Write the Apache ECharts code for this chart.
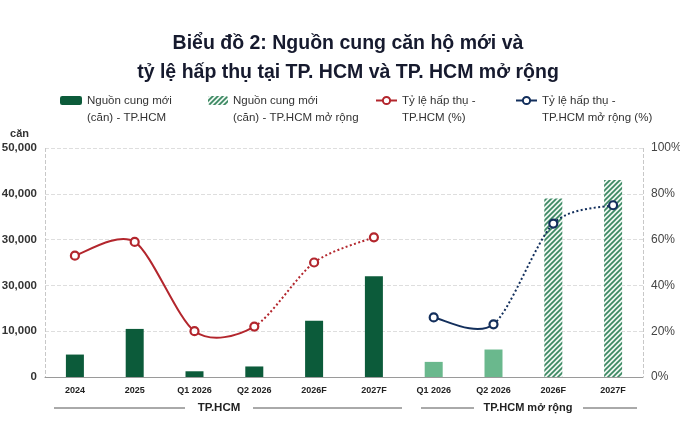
<!DOCTYPE html>
<html>
<head>
<meta charset="utf-8">
<script src="https://cdn.jsdelivr.net/npm/echarts@6/dist/echarts.min.js"></script>
<style>
html,body{margin:0;padding:0;background:#fff;}
#c{width:680px;height:425px;}
</style>
</head>
<body>
<div id="c"></div>
<script>
// ---- data ----
var categories = ['2024','2025','Q1 2026','Q2 2026','2026F','2027F','Q1 2026','Q2 2026','2026F','2027F'];
var supplyHCM = [4900, 10500, 1250, 2300, 12300, 22000, null, null, null, null];
var supplyExt = [null, null, null, null, null, null, 3300, 6000, 39000, 43000];
var absorbHCM = [53, 59, 20, 22, null, null, null, null, null, null];
var absorbHCMForecast = [null, null, null, 22, 50, 61, null, null, null, null];
var absorbExt = [null, null, null, null, null, null, 26, 23, null, null];
var absorbExtForecast = [null, null, null, null, null, null, null, 23, 67, 75];
var leftTickLabels = ['0','10,000','30,000','30,000','40,000','50,000'];
var rightTickLabels = ['0%','20%','40%','60%','80%','100%'];
var forecastFlags = [false,false,false,false,true,true,false,false,true,true];

// ---- styles ----
var DARK = '#0c5b3a', LIGHT = '#6ab88d', RED = '#b3262d', NAVY = '#132f5c';
function hatch(){
  var s = 5, cv = document.createElement('canvas');
  cv.width = s; cv.height = s;
  var ctx = cv.getContext('2d');
  ctx.fillStyle = '#eef6f1'; ctx.fillRect(0,0,s,s);
  ctx.strokeStyle = '#3b8862'; ctx.lineWidth = 1.7;
  ctx.beginPath();
  ctx.moveTo(0,s); ctx.lineTo(s,0);
  ctx.moveTo(-1,1); ctx.lineTo(1,-1);
  ctx.moveTo(s-1,s+1); ctx.lineTo(s+1,s-1);
  ctx.stroke();
  return {image: cv, repeat: 'repeat'};
}
var HATCH = hatch();

var extData = supplyExt.map(function(v,i){
  if (v === null) return null;
  return forecastFlags[i] ? {value: v, itemStyle:{color: HATCH}} : {value: v, itemStyle:{color: LIGHT}};
});

function merge(a, b){ return a.map(function(v,i){ return v !== null ? v : b[i]; }); }

var FONT = 'Liberation Sans, Arial, sans-serif';
var NAME_SUP_HCM = 'Nguồn cung mới\n(căn) - TP.HCM';
var NAME_SUP_EXT = 'Nguồn cung mới\n(căn) - TP.HCM mở rộng';
var NAME_ABS_HCM = 'Tỷ lệ hấp thụ -\nTP.HCM (%)';
var NAME_ABS_EXT = 'Tỷ lệ hấp thụ -\nTP.HCM mở rộng (%)';

function legend(name, left, w, h, lineColor){
  var item = {name: name};
  if (lineColor) item.lineStyle = {color: lineColor, width: 2, opacity: 1, type: 'solid'};
  return {
    data: [item], left: left, top: 70, itemWidth: w, itemHeight: h, itemGap: 0,
    selectedMode: false,
    formatter: function(n){ return ' \n' + n; },
    textStyle: {fontFamily: FONT, fontSize: 11.5, color: '#333', lineHeight: 17}
  };
}

// markers series (the curve itself is drawn by a custom series below)
function markerSeries(name, solid, forecast, color){
  return {
    name: name, type: 'line', yAxisIndex: 1, data: merge(solid, forecast),
    symbol: 'circle', symbolSize: 8,
    lineStyle: {color: color, width: 2, opacity: 0},
    itemStyle: {color: '#fff', borderColor: color, borderWidth: 2.2},
    z: 5
  };
}

// smooth (Catmull-Rom) curve through the data points, via the chart's own coord system
function curveSeries(solid, forecast, color){
  var vals = merge(solid, forecast);
  var idx = [];
  vals.forEach(function(v,i){ if (v !== null) idx.push(i); });
  var T = 7;
  return {
    type: 'custom', yAxisIndex: 1, data: [[idx[0], vals[idx[0]]]], silent: true, z: 3,
    renderItem: function(params, api){
      var pts = idx.map(function(i){ return api.coord([i, vals[i]]); });
      var sPath = '', dPath = '';
      for (var k = 0; k < pts.length - 1; k++){
        var p0 = pts[k-1] || pts[k], p1 = pts[k], p2 = pts[k+1], p3 = pts[k+2] || pts[k+1];
        var c1x = p1[0] + (p2[0]-p0[0])/T, c1y = p1[1] + (p2[1]-p0[1])/T;
        var c2x = p2[0] - (p3[0]-p1[0])/T, c2y = p2[1] - (p3[1]-p1[1])/T;
        var seg = 'M' + p1[0] + ' ' + p1[1] + ' C' + c1x + ' ' + c1y + ' ' + c2x + ' ' + c2y + ' ' + p2[0] + ' ' + p2[1] + ' ';
        var isSolid = solid[idx[k]] !== null && solid[idx[k+1]] !== null;
        if (isSolid) sPath += seg; else dPath += seg;
      }
      var children = [];
      if (sPath) children.push({type: 'path', shape: {pathData: sPath}, style: {stroke: color, lineWidth: 2, fill: 'none'}});
      if (dPath) children.push({type: 'path', shape: {pathData: dPath}, style: {stroke: color, lineWidth: 2, fill: 'none', lineDash: [2, 2.4]}});
      return {type: 'group', children: children};
    }
  };
}

var chart = echarts.init(document.getElementById('c'));

chart.setOption({
  animation: false,
  title: {
    text: 'Biểu đồ 2: Nguồn cung căn hộ mới và\ntỷ lệ hấp thụ tại TP. HCM và TP. HCM mở rộng',
    left: 343, textAlign: 'center', top: 24,
    textStyle: {fontFamily: FONT, fontSize: 19.5, fontWeight: 'bold', color: '#161a2e', lineHeight: 29}
  },
  legend: [
    legend(NAME_SUP_HCM, 55, 22, 9),
    legend(NAME_SUP_EXT, 203, 20, 9),
    legend(NAME_ABS_HCM, 370, 21, 9, RED),
    legend(NAME_ABS_EXT, 510, 21, 9, NAVY)
  ],
  grid: {left: 45, right: 37, top: 148, bottom: 48, outerBoundsMode: 'none', containLabel: false},
  xAxis: {
    type: 'category', data: categories,
    axisLine: {lineStyle: {color: '#9a9a9a', width: 1}},
    axisTick: {show: false},
    axisLabel: {fontFamily: FONT, fontSize: 9, fontWeight: 'bold', color: '#222', margin: 9, interval: 0},
    splitLine: {show: true, interval: function(i){ return i === 6; }, lineStyle: {color: '#c8c8c8', type: 'dashed'}}
  },
  yAxis: [
    {
      type: 'value', min: 0, max: 50000, interval: 10000,
      name: 'căn', nameLocation: 'end', nameGap: 9,
      nameTextStyle: {fontFamily: FONT, fontSize: 11, fontWeight: 'bold', color: '#333', align: 'right', padding: [0, 16, 0, 0]},
      axisLine: {show: false}, axisTick: {show: false},
      axisLabel: {fontFamily: FONT, fontSize: 11.5, fontWeight: 'bold', color: '#333', margin: 8,
        formatter: function(v){ return leftTickLabels[Math.round(v/10000)]; }},
      splitLine: {lineStyle: {color: '#dedede', type: 'dashed'}}
    },
    {
      type: 'value', min: 0, max: 100, interval: 20, position: 'right',
      axisLine: {show: false}, axisTick: {show: false},
      axisLabel: {fontFamily: FONT, fontSize: 12, color: '#444', margin: 8,
        formatter: function(v){ return rightTickLabels[Math.round(v/20)]; }},
      splitLine: {show: false}
    }
  ],
  series: [
    {name: NAME_SUP_HCM, type: 'bar', stack: 'sup', barWidth: 18, data: supplyHCM, itemStyle: {color: DARK}},
    {name: NAME_SUP_EXT, type: 'bar', stack: 'sup', barWidth: 18, data: extData, itemStyle: {color: HATCH}},
    curveSeries(absorbHCM, absorbHCMForecast, RED),
    curveSeries(absorbExt, absorbExtForecast, NAVY),
    markerSeries(NAME_ABS_HCM, absorbHCM, absorbHCMForecast, RED),
    markerSeries(NAME_ABS_EXT, absorbExt, absorbExtForecast, NAVY)
  ],
  graphic: [
    {type: 'line', shape: {x1: 54, y1: 408, x2: 185, y2: 408}, style: {stroke: '#555', lineWidth: 1}},
    {type: 'text', x: 219, y: 408, style: {text: 'TP.HCM', font: 'bold 11.5px ' + FONT, fill: '#222', align: 'center', verticalAlign: 'middle'}},
    {type: 'line', shape: {x1: 253, y1: 408, x2: 402, y2: 408}, style: {stroke: '#555', lineWidth: 1}},
    {type: 'line', shape: {x1: 421, y1: 408, x2: 474, y2: 408}, style: {stroke: '#555', lineWidth: 1}},
    {type: 'text', x: 528, y: 408, style: {text: 'TP.HCM mở rộng', font: 'bold 11px ' + FONT, fill: '#222', align: 'center', verticalAlign: 'middle'}},
    {type: 'line', shape: {x1: 583, y1: 408, x2: 637, y2: 408}, style: {stroke: '#555', lineWidth: 1}}
  ]
});
</script>
</body>
</html>
